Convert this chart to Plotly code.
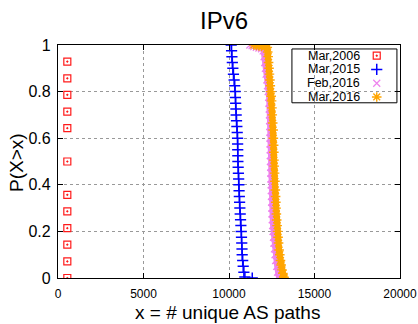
import plotly.graph_objects as go

# ---------------- data ----------------
mar2006_x = [545, 545, 545, 545, 545, 545, 545, 545, 545, 545, 545, 545]
mar2006_p = [0.929, 0.857, 0.786, 0.714, 0.643, 0.5, 0.357, 0.286, 0.214, 0.143, 0.071, 0.0]

mar2015_x = [10130, 10150, 10170, 10195, 10225, 10260, 10300, 10335, 10360, 10375,
             10390, 10405, 10420, 10440, 10460, 10480, 10500, 10505, 10510, 10515,
             10520, 10535, 10550, 10565, 10575, 10590, 10605, 10620, 10635, 10655,
             10675, 10695, 10715, 10730, 10745, 10760, 10770, 10800, 10830, 10870,
             10930, 11360]
mar2015_p = [1.0, 0.975, 0.95, 0.925, 0.9, 0.875, 0.85, 0.825, 0.8, 0.775,
             0.75, 0.725, 0.7, 0.675, 0.65, 0.625, 0.6, 0.575, 0.55, 0.525,
             0.5, 0.475, 0.45, 0.425, 0.4, 0.375, 0.35, 0.325, 0.3, 0.275,
             0.25, 0.225, 0.2, 0.175, 0.15, 0.125, 0.1, 0.075, 0.05, 0.025,
             0.004, 0.0]

feb2016_x = [11220, 11350, 11450, 11600, 11750, 11900, 12000, 12050, 12090, 12130,
             12170, 12210, 12250, 12290, 12320, 12340, 12355, 12365, 12375, 12385,
             12395, 12400, 12405, 12410, 12415, 12425, 12435, 12445, 12455, 12465,
             12475, 12485, 12495, 12505, 12515, 12530, 12550, 12575, 12600, 12625,
             12655, 12690, 12730, 12790, 12840, 12900]
feb2016_p = [1.0, 0.997, 0.993, 0.99, 0.987, 0.984, 0.975, 0.95, 0.925, 0.9,
             0.875, 0.85, 0.825, 0.8, 0.775, 0.75, 0.725, 0.7, 0.675, 0.65,
             0.625, 0.6, 0.575, 0.55, 0.525, 0.5, 0.475, 0.45, 0.425, 0.4,
             0.375, 0.35, 0.325, 0.3, 0.275, 0.25, 0.225, 0.2, 0.175, 0.15,
             0.125, 0.1, 0.075, 0.05, 0.025, 0.0]

mar2016_x = [11450, 11600, 11750, 11900, 12100, 12240, 12265, 12290, 12315, 12340,
             12365, 12390, 12415, 12440, 12465, 12490, 12510, 12530, 12555, 12580,
             12595, 12610, 12620, 12630, 12645, 12665, 12685, 12710, 12725, 12740,
             12755, 12770, 12790, 12815, 12840, 12870, 12900, 12930, 12970, 13010,
             13050, 13100, 13150, 13200, 13230]
mar2016_p = [1.0, 0.998, 0.996, 0.994, 0.993, 0.99, 0.97, 0.95, 0.925, 0.9,
             0.875, 0.85, 0.825, 0.8, 0.78, 0.76, 0.73, 0.7, 0.665, 0.635,
             0.6, 0.57, 0.54, 0.506, 0.48, 0.45, 0.415, 0.378, 0.35, 0.325,
             0.3, 0.275, 0.249, 0.225, 0.2, 0.175, 0.15, 0.12, 0.1, 0.075,
             0.056, 0.035, 0.02, 0.004, 0.0]

series_names = ["Mar,2006", "Mar,2015", "Feb,2016", "Mar,2016"]

x_tick_vals = [0, 5000, 10000, 15000, 20000]
y_tick_vals = [0, 0.2, 0.4, 0.6, 0.8, 1]
y_tick_text = ["0", "0.2", "0.4", "0.6", "0.8", "1"]

# ---------------- styles ----------------
FONT = "Liberation Sans, Arial, sans-serif"
RED, BLUE, VIOLET, ORANGE = "#ff1a1a", "#0000ff", "#ee82ee", "#ffa500"

styles = [
    dict(symbol="square-open-dot", color=RED, size=7, lw=1.2),
    dict(symbol="cross-thin-open", color=BLUE, size=8, lw=1.5),
    dict(symbol="x-thin-open", color=VIOLET, size=7, lw=1.2),
    dict(symbol="asterisk-open", color=ORANGE, size=8, lw=1.4),
]

fig = go.Figure()

# Mar,2006
fig.add_trace(go.Scatter(
    x=mar2006_x, y=mar2006_p, mode="markers", showlegend=False,
    marker=dict(symbol=styles[0]["symbol"], size=styles[0]["size"], color=RED,
                line=dict(color=RED, width=styles[0]["lw"]))))
# Mar,2015
fig.add_trace(go.Scatter(
    x=mar2015_x, y=mar2015_p, mode="markers", showlegend=False,
    marker=dict(symbol=styles[1]["symbol"], size=styles[1]["size"], color=BLUE,
                line=dict(color=BLUE, width=styles[1]["lw"]))))
# Feb,2016
fig.add_trace(go.Scatter(
    x=feb2016_x, y=feb2016_p, mode="lines+markers", showlegend=False,
    line=dict(color=VIOLET, width=5),
    marker=dict(symbol=styles[2]["symbol"], size=styles[2]["size"], color=VIOLET,
                line=dict(color=VIOLET, width=styles[2]["lw"]))))
# Mar,2016
fig.add_trace(go.Scatter(
    x=mar2016_x, y=mar2016_p, mode="lines+markers", showlegend=False,
    line=dict(color=ORANGE, width=6),
    marker=dict(symbol=styles[3]["symbol"], size=styles[3]["size"], color=ORANGE,
                line=dict(color=ORANGE, width=styles[3]["lw"]))))

# ---------------- custom legend (gnuplot style: text then key) ----------------
leg_box = dict(x0=0.684, x1=0.991, y0=0.752, y1=0.983)
leg_text_x = 0.889
leg_key_x = 0.932
leg_rows = [0.954, 0.895, 0.836, 0.777]

for name, st, ry in zip(series_names, styles, leg_rows):
    fig.add_trace(go.Scatter(
        x=[leg_key_x], y=[ry], xaxis="x2", yaxis="y2", mode="markers",
        showlegend=False, hoverinfo="skip",
        marker=dict(symbol=st["symbol"], size=st["size"], color=st["color"],
                    line=dict(color=st["color"], width=st["lw"]))))
    fig.add_annotation(text=name, xref="paper", yref="paper", x=leg_text_x, y=ry,
                       xanchor="right", yanchor="middle", showarrow=False,
                       font=dict(family=FONT, size=12.5, color="black"))

fig.add_shape(type="rect", xref="paper", yref="paper", layer="between",
              line=dict(color="black", width=1), fillcolor="white", **leg_box)

# axis titles
fig.add_annotation(text="P(X>x)", xref="paper", yref="paper", x=-0.12, y=0.498,
                   textangle=-90, xanchor="center", yanchor="middle", showarrow=False,
                   font=dict(family=FONT, size=19, color="black"))
fig.add_annotation(text="x = # unique AS paths", xref="paper", yref="paper",
                   x=0.496, y=-0.150, xanchor="center", yanchor="middle", showarrow=False,
                   font=dict(family=FONT, size=19, color="black"))

axis_common = dict(showline=True, linecolor="black", linewidth=1.2, mirror="ticks",
                   ticks="inside", ticklen=5, tickcolor="black", automargin=False,
                   showgrid=True, gridcolor="#999999", griddash="dot", gridwidth=1,
                   zeroline=False)

fig.update_layout(
    width=418, height=324,
    margin=dict(l=58, r=18, t=45, b=46, autoexpand=False),
    paper_bgcolor="white", plot_bgcolor="white",
    font=dict(family=FONT, color="black"),
    title=dict(text="IPv6", x=0.536, xref="container", xanchor="center",
               y=1 - 21 / 324, yref="container", yanchor="middle",
               font=dict(family=FONT, size=24, color="black")),
    showlegend=False,
    xaxis=dict(range=[0, 20000], tickvals=x_tick_vals,
               ticktext=[str(v) for v in x_tick_vals],
               tickfont=dict(family=FONT, size=12, color="black"),
               ticklabelstandoff=4, **axis_common),
    yaxis=dict(range=[0, 1], tickvals=y_tick_vals, ticktext=y_tick_text,
               tickfont=dict(family=FONT, size=16, color="black"),
               ticklabelstandoff=3, **axis_common),
    xaxis2=dict(range=[0, 1], overlaying="x", visible=False, fixedrange=True),
    yaxis2=dict(range=[0, 1], overlaying="y", visible=False, fixedrange=True),
)

fig.write_html("out.html")
